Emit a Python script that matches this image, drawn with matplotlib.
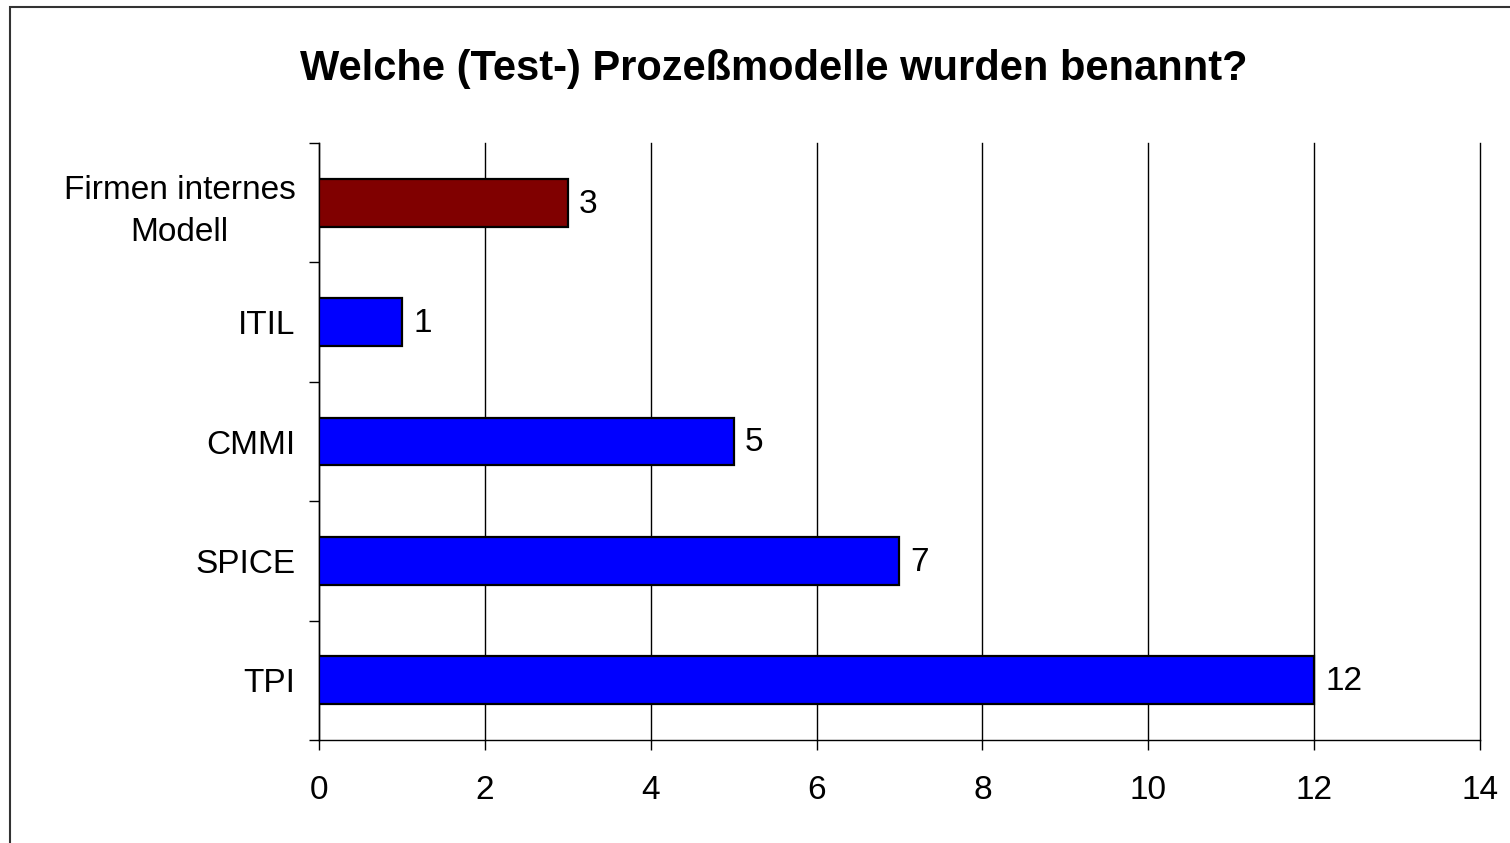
import matplotlib.pyplot as plt
from matplotlib.patches import Rectangle
import numpy as np

plt.rcParams['font.family'] = ['Liberation Sans', 'DejaVu Sans']

# data, bottom to top as drawn
categories = ["TPI", "SPICE", "CMMI", "ITIL", "Firmen internes\nModell"]
counts = [12, 7, 5, 1, 3]
bar_colours = ["#0000FF", "#0000FF", "#0000FF", "#0000FF", "#800000"]
x_ticks = [0, 2, 4, 6, 8, 10, 12, 14]
title = "Welche (Test-) Prozeßmodelle wurden benannt?"

W, H = 1510, 843
fig = plt.figure(figsize=(W / 100, H / 100), dpi=100)

# outer frame, only top and left edges fall inside the picture
frame = Rectangle((10 / W, -0.1), 1.2, (H - 7) / H + 0.1, transform=fig.transFigure,
                  fill=False, edgecolor="#333333", linewidth=1.5)
fig.patches.append(frame)

ax = fig.add_axes([319 / W, (H - 740) / H, (1480 - 319) / W, (740 - 143) / H])

y = np.arange(len(categories))
ax.barh(y, counts, height=0.4, color=bar_colours, edgecolor="black", linewidth=1.6, zorder=3)

for yi, c in zip(y, counts):
    ax.annotate(str(c), (c, yi), xytext=(8, -1), textcoords="offset points",
                ha="left", va="center", fontsize=24)

ax.set_xlim(0, 14)
ax.set_ylim(-0.5, len(categories) - 0.5)
ax.set_xticks(x_ticks)
ax.set_xticklabels([str(t) for t in x_ticks], fontsize=24)
ax.set_yticks(y)
ax.set_yticklabels(categories, fontsize=24, multialignment="center", linespacing=1.45)
ax.set_yticks(np.arange(-0.5, len(categories), 1.0), minor=True)

ax.tick_params(axis="y", which="major", length=0, pad=17)
ax.tick_params(axis="y", which="minor", length=7, width=1, direction="out")
ax.tick_params(axis="x", length=7, width=1, direction="out", pad=18)

ax.grid(axis="x", color="black", linewidth=1, zorder=0)
for gl in ax.get_xgridlines():
    gl.set_clip_on(False)
ax.set_axisbelow(True)
for side in ["top", "right"]:
    ax.spines[side].set_visible(False)
for side in ["left", "bottom"]:
    ax.spines[side].set_linewidth(1)

fig.text(774 / W, 1 - 80 / H, title, ha="center", va="baseline",
         fontsize=30, fontweight="bold")

fig.savefig("out.png", dpi=100)
